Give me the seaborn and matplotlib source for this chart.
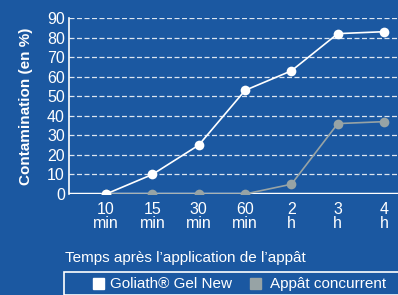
import numpy as np
import pandas as pd
import matplotlib.pyplot as plt
import seaborn as sns
from matplotlib.patches import Rectangle

temps = ['10\nmin', '15\nmin', '30\nmin', '60\nmin', '2\nh', '3\nh', '4\nh']
goliath = [0, 10, 25, 53, 63, 82, 83]
concurrent = [0, 0, 0, 0, 5, 36, 37]
series = ['Goliath® Gel New', 'Appât concurrent']

bleu = '#1b58a1'
gris = '#97a3a5'

x = list(range(len(temps)))

sns.set_theme(style='white')
plt.rcParams['font.family'] = ['Liberation Sans', 'DejaVu Sans']

fig = plt.figure(figsize=(3.98, 2.95), dpi=100, facecolor=bleu)
ax = fig.add_axes([69/398, 1 - 194/295, 329/398, 176/295])
ax.set_facecolor(bleu)

for y in range(10, 100, 10):
    ax.axhline(y, color='white', lw=0.9, ls=(0, (4, 2)), alpha=0.85, zorder=1)
ax.axhline(0, color='white', lw=2.5, zorder=2)

# concurrent d'abord, Goliath par-dessus
sns.lineplot(x=x, y=concurrent, color=gris, marker='o', markersize=7,
             markeredgewidth=0, lw=1.2, ax=ax, zorder=3)
sns.lineplot(x=x, y=goliath, color='white', marker='o', markersize=7,
             markeredgewidth=0, lw=1.2, ax=ax, zorder=4)

ax.set_xlim(-0.8, 6.3)
ax.set_ylim(0, 90)
ax.set_yticks(range(0, 100, 10))
ax.set_xticks(x)
ax.set_xticklabels(temps, linespacing=0.85)
ax.tick_params(colors='white', labelsize=11.5, length=0, pad=3)
ax.tick_params(axis='x', pad=6)
for s in ['top', 'right', 'bottom']:
    ax.spines[s].set_visible(False)
ax.spines['left'].set_color('white')
ax.spines['left'].set_linewidth(1.2)
ax.set_xlabel('')
ax.set_ylabel('Contamination (en %)', color='white', fontsize=11,
              fontweight='bold', labelpad=10)

fig.text(65/398, 1 - 258/295, 'Temps après l’application de l’appât',
         color='white', fontsize=11, va='center', ha='left')

fig.patches.append(Rectangle((64/398, 0.0), 340/398, 1 - 272/295,
                             transform=fig.transFigure, fill=False,
                             edgecolor='white', lw=1.2))
fig.patches.append(Rectangle((93/398, 1 - 289/295), 11/398, 11/295,
                             transform=fig.transFigure, color='white'))
fig.text(110/398, 1 - 284/295, series[0], color='white', fontsize=11, va='center')
fig.patches.append(Rectangle((250/398, 1 - 289/295), 11/398, 11/295,
                             transform=fig.transFigure, color=gris))
fig.text(270/398, 1 - 284/295, series[1], color='white', fontsize=11, va='center')

fig.savefig('out.png', dpi=100, facecolor=bleu)
